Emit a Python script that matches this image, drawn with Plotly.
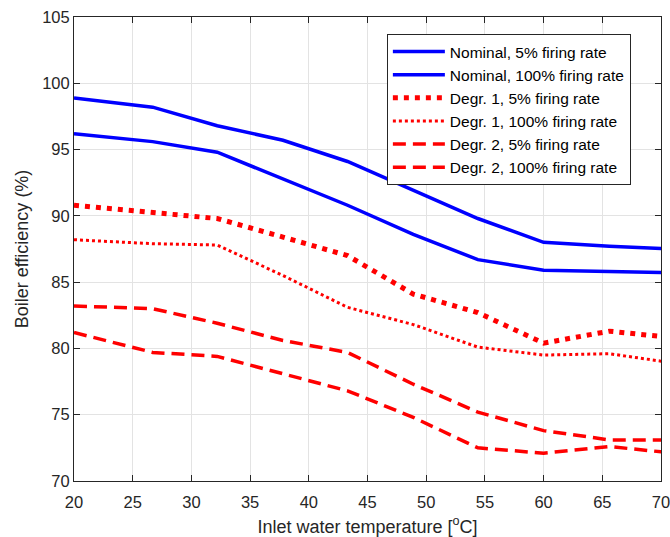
import plotly.graph_objects as go

# Inlet water temperature (°C) – Fahrenheit grid 68..160 °F
temps = [20.0, 26.7, 32.2, 37.8, 43.3, 48.9, 54.4, 60.0, 65.6, 71.1]

nominal_5 = [98.9, 98.2, 96.8, 95.7, 94.1, 91.9, 89.8, 88.0, 87.7, 87.5]
nominal_100 = [96.2, 95.6, 94.8, 92.8, 90.8, 88.6, 86.7, 85.9, 85.8, 85.7]
degr1_5 = [90.8, 90.3, 89.8, 88.4, 87.0, 84.1, 82.7, 80.4, 81.3, 80.8]
degr1_100 = [88.2, 87.9, 87.8, 85.5, 83.1, 81.8, 80.1, 79.5, 79.6, 78.9]
degr2_5 = [83.2, 83.0, 81.9, 80.6, 79.7, 77.3, 75.2, 73.8, 73.1, 73.1]
degr2_100 = [81.2, 79.7, 79.4, 78.1, 76.8, 74.8, 72.5, 72.1, 72.6, 72.1]

series_names = [
    "Nominal, 5% firing rate",
    "Nominal, 100% firing rate",
    "Degr. 1, 5% firing rate",
    "Degr. 1, 100% firing rate",
    "Degr. 2, 5% firing rate",
    "Degr. 2, 100% firing rate",
]
series_values = [nominal_5, nominal_100, degr1_5, degr1_100, degr2_5, degr2_100]
styles = [
    dict(color="#0000ff", width=3.5, dash="solid"),
    dict(color="#0000ff", width=3.5, dash="solid"),
    dict(color="#ff0000", width=5, dash="5px,6px"),
    dict(color="#ff0000", width=3, dash="3px,3px"),
    dict(color="#ff0000", width=3.5, dash="13px,7px"),
    dict(color="#ff0000", width=3.5, dash="13px,7px"),
]

x_ticks = [20, 25, 30, 35, 40, 45, 50, 55, 60, 65, 70]
y_ticks = [70, 75, 80, 85, 90, 95, 100, 105]

fig = go.Figure()
for name, vals, st in zip(series_names, series_values, styles):
    fig.add_trace(go.Scatter(x=temps, y=vals, mode="lines", name=name, line=st))

font_family = "Liberation Sans, Arial, sans-serif"
axis_common = dict(
    showline=True, linecolor="#262626", linewidth=1, mirror="ticks",
    ticks="inside", ticklen=6, tickcolor="#262626", tickwidth=1,
    showgrid=True, gridcolor="#e3e3e3", gridwidth=1, zeroline=False,
    tickfont=dict(family=font_family, size=16.5, color="#262626"),
    ticklabeloverflow="allow", automargin=False,
)

fig.update_layout(
    width=670, height=537,
    margin=dict(l=74, r=9, t=17, b=56),
    paper_bgcolor="white", plot_bgcolor="white",
    font=dict(family=font_family, color="#262626"),
    showlegend=True,
    legend=dict(
        x=0.533, y=0.9635, xanchor="left", yanchor="top",
        bgcolor="white", bordercolor="#262626", borderwidth=1,
        font=dict(family=font_family, size=15.5, color="#000000"),
        tracegroupgap=0, itemwidth=52,
    ),
    xaxis=dict(
        range=[20, 70], tickvals=x_ticks, ticklabelstandoff=6,
        title=dict(text="Inlet water temperature [<sup>o</sup>C]",
                   font=dict(family=font_family, size=18, color="#262626"), standoff=12),
        **axis_common,
    ),
    yaxis=dict(
        range=[70, 105], tickvals=y_ticks,
        title=dict(text="Boiler efficiency (%)",
                   font=dict(family=font_family, size=18, color="#262626"), standoff=8),
        **axis_common,
    ),
)

fig.write_html("out.html")
